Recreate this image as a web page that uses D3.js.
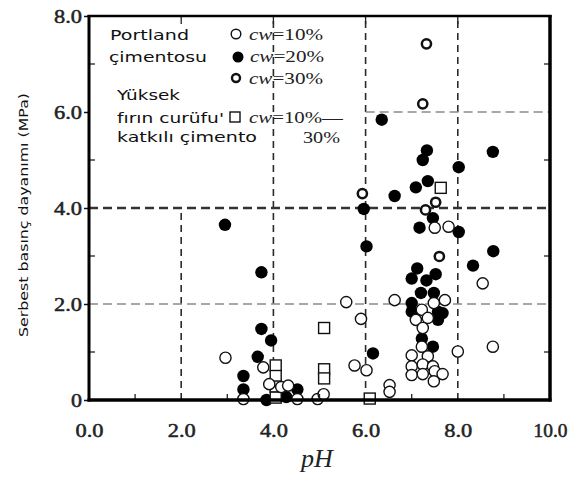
<!DOCTYPE html>
<html>
<head>
<meta charset="utf-8">
<script src="https://cdn.jsdelivr.net/npm/d3@7"></script>
<style>
  html, body { margin: 0; padding: 0; background: #fff; }
  svg { display: block; }
</style>
</head>
<body>
<svg id="chart" width="574" height="478"></svg>
<script>
// Unconfined compressive strength vs pH, by cement type and content
const xTicks = [0, 2, 4, 6, 8, 10];
const yTicks = [0, 2, 4, 6, 8];
const xTickLabels = ["0.0", "2.0", "4.0", "6.0", "8.0", "10.0"];
const yTickLabels = ["0", "2.0", "4.0", "6.0", "8.0"];

// Portland cement, cw = 10% (open circles) [pH, MPa]
const portland10 = [
  [2.96, 0.88], [3.78, 0.68], [3.35, 0.02], [3.91, 0.33], [4.17, 0.27], [4.32, 0.3],
  [4.52, 0.02], [4.96, 0.02], [5.09, 0.12], [5.58, 2.04], [5.9, 1.69], [5.76, 0.72],
  [6.02, 0.62], [6.52, 0.31], [6.52, 0.17], [6.63, 2.08], [7.8, 3.61], [7.5, 3.59],
  [7.48, 2.02], [7.72, 2.08], [7.22, 1.88], [7.09, 1.67], [7.35, 1.71], [7.24, 1.5],
  [7.22, 1.11], [8.0, 1.01], [7.0, 0.93], [7.35, 0.91], [7.0, 0.7], [7.24, 0.74],
  [7.46, 0.7], [7.0, 0.52], [7.24, 0.54], [7.5, 0.6], [7.67, 0.54], [7.48, 0.39],
  [8.54, 2.43], [8.76, 1.11]
];
// Portland cement, cw = 20% (filled circles)
const portland20 = [
  [2.95, 3.65], [3.74, 2.66], [3.74, 1.48], [3.95, 1.24], [3.66, 0.9], [3.35, 0.5],
  [3.35, 0.22], [3.85, 0.0], [4.28, 0.06], [4.52, 0.22], [6.35, 5.84], [7.33, 5.2],
  [7.24, 5.0], [8.02, 4.85], [8.76, 5.17], [7.35, 4.56], [7.09, 4.43], [6.63, 4.25],
  [5.96, 3.98], [7.46, 3.79], [7.17, 3.59], [8.02, 3.5], [6.02, 3.2], [8.77, 3.1],
  [7.12, 2.74], [8.33, 2.8], [7.0, 2.53], [7.32, 2.49], [7.52, 2.62], [7.2, 2.23],
  [7.48, 2.23], [7.0, 2.02], [7.0, 1.84], [7.57, 1.84], [7.67, 1.81], [7.57, 1.67],
  [7.22, 1.28], [7.46, 1.11], [6.16, 0.97]
];
// Portland cement, cw = 30% (heavy rings)
const portland30 = [
  [7.32, 7.42], [7.24, 6.17], [5.93, 4.3], [7.52, 4.12], [7.3, 3.96], [7.6, 2.99]
];
// Blast furnace slag cement, cw = 10%–30% (open squares)
const slag = [
  [4.05, 0.72], [4.05, 0.5], [4.05, 0.28], [4.05, 0.05], [5.1, 1.5], [5.1, 0.64],
  [5.1, 0.45], [6.09, 0.03], [7.63, 4.42]
];

// Dashed reference lines (in data units)
const vGuides = [ { x: 2, y0: 0, y1: 4 }, { x: 4, y0: 0, y1: 8 }, { x: 6, y0: 0, y1: 8 }, { x: 8, y0: 0, y1: 8 } ];
const hGuides = [ { y: 2, x0: 0, x1: 10, kind: "light" }, { y: 4, x0: 0, x1: 10, kind: "heavy" }, { y: 6, x0: 6, x1: 10, kind: "light" } ];

const svg = d3.select("#chart");
const x = d3.scaleLinear().domain([0, 10]).range([89, 550]);
const y = d3.scaleLinear().domain([0, 8]).range([400, 16]);

// guides
const guides = svg.append("g");
guides.selectAll("line.v").data(vGuides).join("line")
  .attr("x1", d => x(d.x)).attr("x2", d => x(d.x))
  .attr("y1", d => y(d.y0)).attr("y2", d => y(d.y1))
  .attr("stroke", "#2a2a2a").attr("stroke-width", 1.6).attr("stroke-dasharray", "7,5");
guides.selectAll("line.h").data(hGuides).join("line")
  .attr("x1", d => x(d.x0)).attr("x2", d => x(d.x1))
  .attr("y1", d => y(d.y)).attr("y2", d => y(d.y))
  .attr("stroke", d => d.kind === "heavy" ? "#333" : "#8a8a8a")
  .attr("stroke-width", d => d.kind === "heavy" ? 2.6 : 1.6)
  .attr("stroke-dasharray", "9,5");

// legend
const leg = svg.append("g");
const sans = "'DejaVu Sans', Verdana, sans-serif";
const serif = "'Liberation Serif', 'Times New Roman', serif";
const legSans = [
  { t: "Portland", x: 110, y: 40, w: 79 },
  { t: "çimentosu", x: 109, y: 62, w: 98 },
  { t: "Yüksek", x: 117, y: 100, w: 63 },
  { t: "fırın curüfu'", x: 117, y: 123, w: 107 },
  { t: "katkılı çimento", x: 117, y: 142, w: 140 }
];
leg.selectAll("text.s").data(legSans).join("text")
  .attr("x", d => d.x).attr("y", d => d.y)
  .attr("font-family", sans).attr("font-size", 14).attr("fill", "#111")
  .attr("textLength", d => d.w).attr("lengthAdjust", "spacingAndGlyphs")
  .text(d => d.t);

const legSerif = [
  { pre: "cw", t: "=10%", x: 249, y: 40, w: 74 },
  { pre: "cw", t: "=20%", x: 250, y: 62, w: 74 },
  { pre: "cw", t: "=30%", x: 249, y: 84, w: 74 },
  { pre: "cw", t: "=10%—", x: 249, y: 123, w: 94 },
  { pre: "", t: "30%", x: 303, y: 143, w: 37 }
];
legSerif.forEach(d => {
  const t = leg.append("text").attr("x", d.x).attr("y", d.y)
    .attr("font-family", serif).attr("font-size", 16).attr("fill", "#222")
    .attr("textLength", d.w).attr("lengthAdjust", "spacingAndGlyphs");
  if (d.pre) t.append("tspan").attr("font-style", "italic").text(d.pre);
  t.append("tspan").text(d.t);
});

leg.append("circle").attr("cx", 236).attr("cy", 34).attr("r", 4.8)
  .attr("fill", "#fff").attr("stroke", "#111").attr("stroke-width", 1.4);
leg.append("circle").attr("cx", 238).attr("cy", 57).attr("r", 5.5).attr("fill", "#000");
leg.append("circle").attr("cx", 236).attr("cy", 78).attr("r", 4)
  .attr("fill", "#fff").attr("stroke", "#111").attr("stroke-width", 2.4);
leg.append("rect").attr("x", 230).attr("y", 112).attr("width", 10).attr("height", 10)
  .attr("fill", "#fff").attr("stroke", "#111").attr("stroke-width", 1.4);

// markers
const marks = svg.append("g");
marks.selectAll("circle.c20").data(portland20).join("circle")
  .attr("cx", d => x(d[0])).attr("cy", d => y(d[1])).attr("r", 6.2).attr("fill", "#000");
marks.selectAll("rect.sl").data(slag).join("rect")
  .attr("x", d => x(d[0]) - 5.5).attr("y", d => y(d[1]) - 5.5)
  .attr("width", 11).attr("height", 11)
  .attr("fill", "#fff").attr("stroke", "#111").attr("stroke-width", 1.4);
marks.selectAll("circle.c10").data(portland10).join("circle")
  .attr("cx", d => x(d[0])).attr("cy", d => y(d[1])).attr("r", 5.6)
  .attr("fill", "#fff").attr("stroke", "#111").attr("stroke-width", 1.4);
marks.selectAll("circle.c30").data(portland30).join("circle")
  .attr("cx", d => x(d[0])).attr("cy", d => y(d[1])).attr("r", 4.6)
  .attr("fill", "#fff").attr("stroke", "#111").attr("stroke-width", 2.5);

// axes
const yAxis = d3.axisLeft(y).tickValues(yTicks).tickSize(5).tickPadding(2)
  .tickFormat((d, i) => yTickLabels[i]);
const gy = svg.append("g").attr("transform", `translate(${x(0)},0)`).call(yAxis);
gy.select(".domain").remove();
gy.selectAll(".tick line").attr("stroke", "#111").attr("stroke-width", 1.5);
gy.selectAll(".tick text")
  .attr("font-family", serif).attr("font-size", 19).attr("fill", "#222")
  .attr("stroke", "#222").attr("stroke-width", 0.5)
  .attr("textLength", (d, i) => yTickLabels[i].length > 1 ? 28 : 11)
  .attr("lengthAdjust", "spacingAndGlyphs");

const xAxis = d3.axisBottom(x).tickValues(xTicks).tickSize(0).tickPadding(0)
  .tickFormat((d, i) => xTickLabels[i]);
const gx = svg.append("g").attr("transform", `translate(0,${y(0)})`).call(xAxis);
gx.select(".domain").remove();
gx.selectAll(".tick text")
  .attr("y", 37).attr("dy", 0)
  .attr("font-family", serif).attr("font-size", 19).attr("fill", "#222")
  .attr("stroke", "#222").attr("stroke-width", 0.5)
  .attr("textLength", (d, i) => xTickLabels[i].length > 3 ? 34 : 28)
  .attr("lengthAdjust", "spacingAndGlyphs");

// minor ticks pointing inward
const minorY = [1, 3, 5, 7];
const minorX = [1, 3, 5, 7, 9];
svg.append("g").selectAll("line").data(minorY).join("line")
  .attr("x1", x(0)).attr("x2", x(0) + 6).attr("y1", d => y(d)).attr("y2", d => y(d))
  .attr("stroke", "#222").attr("stroke-width", 1.3);
svg.append("g").selectAll("line").data(minorY).join("line")
  .attr("x1", x(10)).attr("x2", x(10) - 6).attr("y1", d => y(d)).attr("y2", d => y(d))
  .attr("stroke", "#222").attr("stroke-width", 1.3);
svg.append("g").selectAll("line").data(minorX).join("line")
  .attr("x1", d => x(d)).attr("x2", d => x(d)).attr("y1", y(0)).attr("y2", y(0) - 6)
  .attr("stroke", "#222").attr("stroke-width", 1.3);
svg.append("g").selectAll("line").data([2, 4, 6, 8]).join("line")
  .attr("x1", d => x(d)).attr("x2", d => x(d)).attr("y1", y(8)).attr("y2", y(8) + 8)
  .attr("stroke", "#222").attr("stroke-width", 1.3);

// frame
const frame = svg.append("g").attr("stroke", "#000").attr("fill", "none");
frame.append("line").attr("x1", x(0)).attr("x2", x(0)).attr("y1", y(8) - 1).attr("y2", y(0) + 1.5).attr("stroke-width", 3);
frame.append("line").attr("x1", x(10)).attr("x2", x(10)).attr("y1", y(8) - 1).attr("y2", y(0) + 1.5).attr("stroke-width", 3.5);
frame.append("line").attr("x1", x(0) - 1.5).attr("x2", x(10) + 1.5).attr("y1", y(0)).attr("y2", y(0)).attr("stroke-width", 3.5);
frame.append("line").attr("x1", x(0) - 1.5).attr("x2", x(10) + 1.5).attr("y1", y(8)).attr("y2", y(8)).attr("stroke-width", 2.5);

// axis titles
svg.append("text")
  .attr("transform", "translate(28,215) rotate(-90)")
  .attr("text-anchor", "middle")
  .attr("font-family", sans).attr("font-size", 13).attr("fill", "#111")
  .attr("textLength", 244).attr("lengthAdjust", "spacingAndGlyphs")
  .text("Serbest basınç dayanımı (MPa)");

svg.append("text")
  .attr("x", 317).attr("y", 467)
  .attr("text-anchor", "middle")
  .attr("font-family", serif).attr("font-style", "italic").attr("font-size", 26).attr("fill", "#222")
  .text("pH");
</script>
</body>
</html>
